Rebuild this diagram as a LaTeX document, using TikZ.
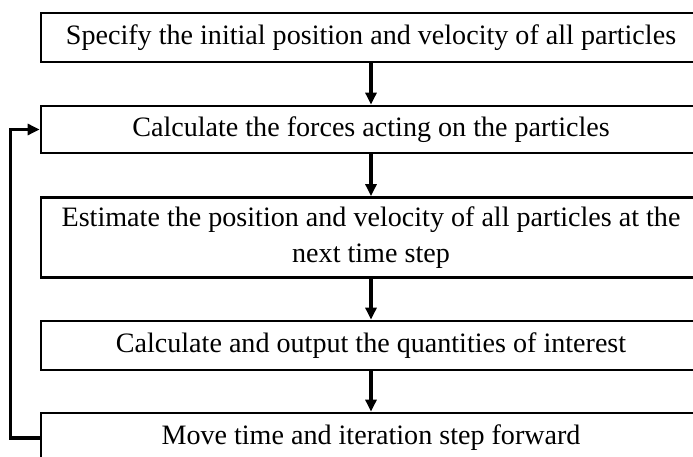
\documentclass[tikz,border=0pt]{standalone}
\usepackage{fontspec}
\setmainfont{Liberation Serif}
\usetikzlibrary{arrows.meta}
\begin{document}
\begin{tikzpicture}[x=1bp,y=-1bp,
  stepbox/.style={draw=black, line width=2.8bp, fill=white, minimum width=660bp, inner sep=0pt, align=center, font=\fontsize{28.2}{36.5}\selectfont},
  flow/.style={line width=3.4bp, -{Triangle[length=12bp,width=11bp]}}]
\useasboundingbox (0,0) rectangle (693,457);
\clip (0,0) rectangle (693,457);
\fill[white] (0,0) rectangle (693,457);
\node[stepbox, minimum height=49bp] (b1) at (371,37.5) {Specify the initial position and velocity of all particles};
\node[stepbox, minimum height=47bp] (b2) at (371,129.5) {Calculate the forces acting on the particles};
\node[stepbox, minimum height=80bp] (b3) at (371,237.5) {Estimate the position and velocity of all particles at the\\next time step};
\node[stepbox, minimum height=49bp] (b4) at (371,345.5) {Calculate and output the quantities of interest};
\node[stepbox, minimum height=50bp] (b5) at (371,438) {Move time and iteration step forward};
\draw[flow] (b1.south) -- (b2.north);
\draw[flow] (b2.south) -- (b3.north);
\draw[flow] (b3.south) -- (b4.north);
\draw[flow] (b4.south) -- (b5.north);
\draw[flow] (b5.west) -- ++(-29,0) |- (b2.west);
\end{tikzpicture}
\end{document}
